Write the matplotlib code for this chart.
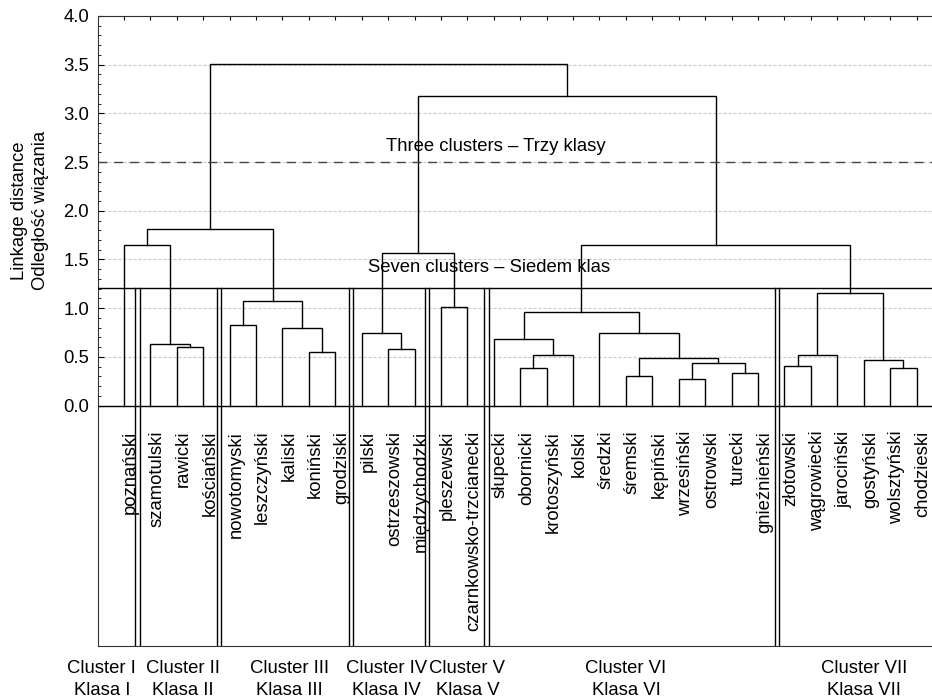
"""
Dendrogram of Wielkopolska districts with the seven and three cluster cuts.
"""
import matplotlib
matplotlib.use("Agg")
import matplotlib.pyplot as plt
import matplotlib.transforms as mtransforms
import numpy as np

plt.rcParams['font.family'] = ['Liberation Sans', 'DejaVu Sans']

districts = [
    "poznański", "szamotulski", "rawicki", "kościański", "nowotomyski",
    "leszczyński", "kaliski", "koniński", "grodziski", "pilski",
    "ostrzeszowski", "międzychodzki", "pleszewski", "czarnkowsko-trzcianecki",
    "słupecki", "obornicki", "krotoszyński", "kolski", "średzki", "śremski",
    "kępiński", "wrzesiński", "ostrowski", "turecki", "gnieźnieński",
    "złotowski", "wągrowiecki", "jarociński", "gostyński", "wolsztyński",
    "chodzieski",
]

# merges: ids 0..30 are districts, 31.. are the merges below in order
merge_a = [21, 19, 23, 15, 29, 25, 31, 28, 32, 34, 36, 7, 10, 2, 1,
           14, 9, 18, 6, 4, 46, 12, 50, 41, 47, 0, 51, 56, 55, 58]
merge_b = [22, 20, 24, 16, 30, 26, 33, 35, 37, 17, 27, 8, 11, 3, 44,
           40, 43, 39, 42, 5, 48, 13, 49, 38, 52, 45, 54, 53, 57, 59]
merge_dist = [0.275, 0.30, 0.33, 0.385, 0.385, 0.41, 0.44, 0.467, 0.491,
              0.522, 0.522, 0.549, 0.577, 0.604, 0.631, 0.686, 0.741,
              0.741, 0.793, 0.823, 0.96, 1.014, 1.07, 1.152, 1.563,
              1.645, 1.645, 1.81, 3.178, 3.506]

seven_cut = 1.21
three_cut = 2.5

cluster_names = [
    "Cluster I\nKlasa I", "Cluster II\nKlasa II", "Cluster III\nKlasa III",
    "Cluster IV\nKlasa IV", "Cluster V\nKlasa V", "Cluster VI\nKlasa VI",
    "Cluster VII\nKlasa VII",
]
cluster_label_x = [0.16, 3.24, 7.25, 10.95, 14.0, 20.0, 29.0]
cluster_borders = [1.51, 4.60, 9.59, 12.47, 14.73, 25.72]

FS = 13.3


def node_positions():
    xs = [i + 1.0 for i in range(len(districts))]
    ys = [0.0] * len(districts)
    for a, b, d in zip(merge_a, merge_b, merge_dist):
        xs.append((xs[a] + xs[b]) / 2)
        ys.append(d)
    return xs, ys


fig = plt.figure(figsize=(9.32, 7.0), dpi=100)
ax = fig.add_axes([97.5 / 932, 54 / 700, 834.5 / 932, 630 / 700])
ax.set_xlim(0, 834.5 / 26.42)
ax.set_ylim(-240.5 / 97.4, 4.0)

xs, ys = node_positions()
for a, b, d in zip(merge_a, merge_b, merge_dist):
    ax.plot([xs[a], xs[a], xs[b], xs[b]], [ys[a], d, d, ys[b]],
            color="black", lw=1.0, solid_joinstyle="miter", zorder=3)

ax.axhline(0, color="black", lw=1.0, zorder=3)
ax.axhline(seven_cut, color="black", lw=1.0, zorder=3)
ax.axhline(three_cut, color="#454545", lw=1.0, ls=(0, (6.5, 4.8)), zorder=3)

for bx in cluster_borders:
    for off in (-0.085, 0.085):
        ax.plot([bx + off, bx + off], [seven_cut, ax.get_ylim()[0]],
                color="black", lw=1.0, zorder=3)

ax.text(15.06, 2.66, "Three clusters – Trzy klasy", ha="center", va="center", fontsize=FS)
ax.text(14.82, 1.415, "Seven clusters – Siedem klas", ha="center", va="center", fontsize=FS)

for i, name in enumerate(districts):
    ax.text(i + 1 + 0.25, -0.26, name, rotation=90, ha="center", va="top", fontsize=FS)

for cx, name in zip(cluster_label_x, cluster_names):
    ax.text(cx, -2.815, name, ha="center", va="center", fontsize=FS,
            linespacing=1.35, clip_on=False)

trans = mtransforms.blended_transform_factory(ax.transAxes, ax.transData)
ax.text(-0.081, 2.0, "Linkage distance\nOdległość wiązania", rotation=90,
        ha="center", va="center", fontsize=FS, linespacing=1.3, transform=trans)

ax.set_yticks(np.arange(0, 4.01, 0.5))
ax.set_yticklabels([f"{v:.1f}" for v in np.arange(0, 4.01, 0.5)])
ax.set_yticks(np.arange(0, 4.01, 0.1), minor=True)
ax.tick_params(axis="y", which="major", direction="in", length=4, labelsize=FS, pad=6)
ax.tick_params(axis="y", which="minor", direction="in", length=2.5)

ax.xaxis.tick_top()
ax.set_xticks(range(1, len(districts) + 1))
ax.tick_params(axis="x", direction="in", length=3, labeltop=False)

ax.yaxis.grid(True, color="#c8c8c8", lw=0.8, ls=(0, (2.7, 1.8)))
ax.set_axisbelow(True)
ax.spines["right"].set_visible(False)
for s in ("left", "top", "bottom"):
    ax.spines[s].set_color("#333333")

fig.savefig("out.png", dpi=100)
